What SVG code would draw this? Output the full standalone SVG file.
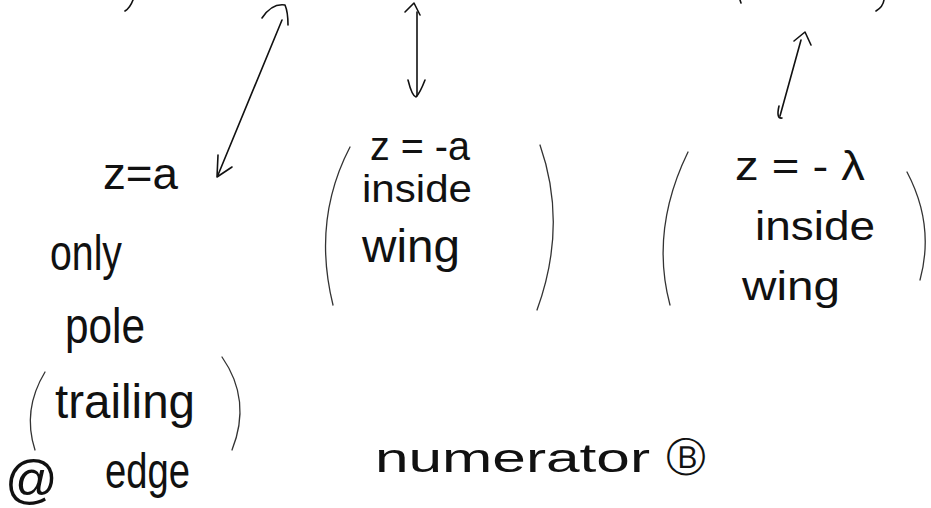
<svg xmlns="http://www.w3.org/2000/svg" width="931" height="508" viewBox="0 0 931 508">
<style>
.t{font-family:"Liberation Sans","DejaVu Sans",sans-serif;fill:#111;}
.s{fill:none;stroke:#111;stroke-width:1.6;stroke-linecap:round;stroke-linejoin:round;}
.p{fill:none;stroke:#333;stroke-width:1.3;stroke-linecap:round;}
</style>
<rect width="931" height="508" fill="#fff"/>
<g id="fragments">
<path class="s" d="M133,0 Q130,8 125,11"/>
<path class="s" d="M740,0 L741,3"/>
<path class="s" d="M884,0 Q883,7 876,11"/>
</g>
<g id="connectors">
<path class="s" d="M282,20 L218,175"/>
<path class="s" d="M262,18 Q272,3 285,5 Q288,12 288,25"/>
<path class="s" d="M218,155 L217,177 L232,167"/>
<path class="s" d="M417,12 L417,96"/>
<path class="s" d="M405,12 L414,3 L420,15"/>
<path class="s" d="M408,80 Q412,96 416,97 Q420,93 425,80"/>
<path class="s" d="M801,40 L780,116"/>
<path class="s" d="M794,41 L805,32 L811,45"/>
<path class="s" d="M779,106 Q776,119 782,118"/>
</g>
<g id="node-za">
<text class="t" x="103" y="189" font-size="44" textLength="75" lengthAdjust="spacingAndGlyphs">z=a</text>
<text class="t" x="50" y="270" font-size="50" textLength="72" lengthAdjust="spacingAndGlyphs">only</text>
<text class="t" x="65" y="343" font-size="50" textLength="80" lengthAdjust="spacingAndGlyphs">pole</text>
<path class="p" d="M45,372 Q22,410 35,450"/>
<text class="t" x="55" y="418" font-size="48" textLength="140" lengthAdjust="spacingAndGlyphs">trailing</text>
<path class="p" d="M222,357 Q252,400 232,450"/>
<text class="t" x="5" y="497" font-size="52">@</text>
<text class="t" x="105" y="488" font-size="50" textLength="85" lengthAdjust="spacingAndGlyphs">edge</text>
</g>
<g id="node-zma">
<path class="p" d="M350,147 Q312,220 333,305"/>
<text class="t" x="370" y="160" font-size="40" textLength="100" lengthAdjust="spacingAndGlyphs">z = -a</text>
<text class="t" x="362" y="202" font-size="38" textLength="110" lengthAdjust="spacingAndGlyphs">inside</text>
<text class="t" x="362" y="262" font-size="46" textLength="98" lengthAdjust="spacingAndGlyphs">wing</text>
<path class="p" d="M540,145 Q568,225 537,310"/>
</g>
<g id="node-zml">
<path class="p" d="M688,152 Q650,230 670,305"/>
<text class="t" x="735" y="180" font-size="40" textLength="130" lengthAdjust="spacingAndGlyphs">z = - λ</text>
<text class="t" x="755" y="240" font-size="40" textLength="120" lengthAdjust="spacingAndGlyphs">inside</text>
<text class="t" x="742" y="300" font-size="40" textLength="98" lengthAdjust="spacingAndGlyphs">wing</text>
<path class="p" d="M907,172 Q935,225 920,280"/>
</g>
<g id="node-numerator">
<text class="t" x="375" y="472" font-size="40" textLength="275" lengthAdjust="spacingAndGlyphs">numerator</text>
<text class="t" x="686" y="471" font-size="40" text-anchor="middle">Ⓑ</text>
</g>
</svg>
